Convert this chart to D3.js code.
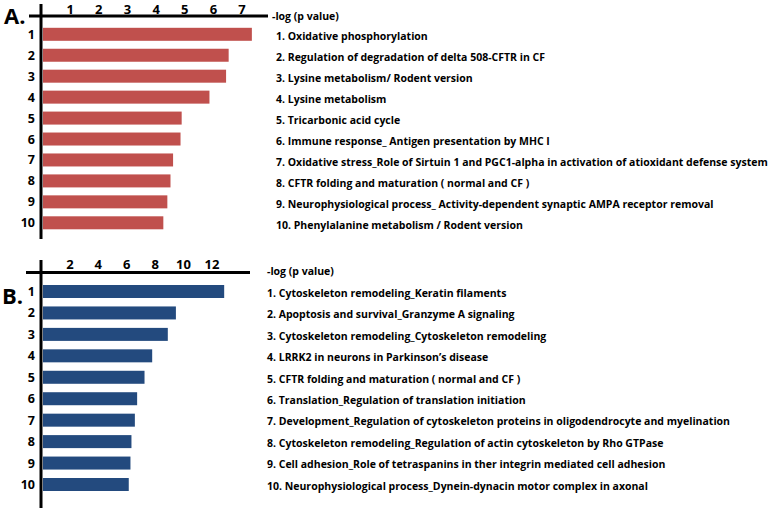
<!DOCTYPE html>
<html><head><meta charset="utf-8">
<script src="https://cdn.jsdelivr.net/npm/d3@7"></script>
<style>
body{margin:0;background:#fff;}
text{font-family:"Open Sans","Noto Sans",sans-serif;}
</style></head>
<body><svg id="c" width="784" height="514"></svg>
<script>
const ranks = ["1","2","3","4","5","6","7","8","9","10"];
const valuesA = [7.36, 6.55, 6.46, 5.88, 4.91, 4.87, 4.61, 4.52, 4.41, 4.27];
const valuesB = [12.9, 9.5, 8.93, 7.83, 7.29, 6.77, 6.61, 6.37, 6.3, 6.18];
const ticksA = [1,2,3,4,5,6,7];
const ticksB = [2,4,6,8,10,12];
const labelsA = [
 "1. Oxidative phosphorylation",
 "2. Regulation of degradation of delta 508-CFTR in CF",
 "3. Lysine metabolism/ Rodent version",
 "4. Lysine metabolism",
 "5. Tricarbonic acid cycle",
 "6. Immune response_ Antigen presentation by MHC I",
 "7. Oxidative stress_Role of Sirtuin 1 and PGC1-alpha in activation of atioxidant defense system",
 "8. CFTR folding and maturation ( normal and CF )",
 "9. Neurophysiological process_ Activity-dependent synaptic AMPA receptor removal",
 "10. Phenylalanine metabolism / Rodent version"
];
const labelsB = [
 "1. Cytoskeleton remodeling_Keratin filaments",
 "2. Apoptosis and survival_Granzyme A signaling",
 "3. Cytoskeleton remodeling_Cytoskeleton remodeling",
 "4. LRRK2 in neurons in Parkinson\u2019s disease",
 "5. CFTR folding and maturation ( normal and CF )",
 "6. Translation_Regulation of translation initiation",
 "7. Development_Regulation of cytoskeleton proteins in oligodendrocyte and myelination",
 "8. Cytoskeleton remodeling_Regulation of actin cytoskeleton by Rho GTPase",
 "9. Cell adhesion_Role of tetraspanins in ther integrin mediated cell adhesion",
 "10. Neurophysiological process_Dynein-dynacin motor complex in axonal"
];
const axisTitle = "-log (p value)";

const svg = d3.select("#c");
const FONT = 'Lato,"Open Sans",sans-serif';

function panel(cfg){
  const g = svg.append("g");
  const x = d3.scaleLinear().domain([0, cfg.unitMax]).range([cfg.x0, cfg.x0 + cfg.unitMax*cfg.unitPx]);
  const y = d3.scalePoint().domain(ranks).range([cfg.yTop, cfg.yBot]);
  const bh = 13;
  g.selectAll("rect.bar").data(cfg.values).join("rect")
    .attr("class","bar")
    .attr("x", x(0)+2)
    .attr("y", (d,i)=>y(ranks[i]) - bh/2)
    .attr("width", d=>x(d)-x(0)-2)
    .attr("height", bh)
    .attr("fill", cfg.color);
  g.append("line").attr("x1", cfg.hx1).attr("x2", cfg.hx2).attr("y1", cfg.axisY).attr("y2", cfg.axisY)
    .attr("stroke","#000").attr("stroke-width",3);
  g.append("line").attr("x1", x(0)).attr("x2", x(0)).attr("y1", cfg.vy1).attr("y2", cfg.vy2)
    .attr("stroke","#000").attr("stroke-width",3);
  const ax = d3.axisTop(x).tickValues(cfg.ticks).tickSize(0).tickPadding(0).tickFormat(d3.format("d"));
  const axg = g.append("g").attr("transform", `translate(0,${cfg.tickY})`).call(ax);
  axg.select(".domain").remove();
  axg.selectAll("text").attr("font-size",13).attr("font-weight",700).attr("fill","#000")
    .attr("font-family",FONT).attr("dy","0.36em");
  const ay = d3.axisLeft(y).tickSize(0).tickPadding(0);
  const ayg = g.append("g").attr("transform", `translate(${cfg.rankX},0)`).call(ay);
  ayg.select(".domain").remove();
  ayg.selectAll("text").attr("font-size",12.5).attr("font-weight",700).attr("fill","#000")
    .attr("font-family",FONT);
  g.append("text").attr("x", cfg.titleX).attr("y", cfg.titleY).attr("dy","0.36em")
    .attr("font-family",FONT).attr("font-size",cfg.fs).attr("font-weight",700).text(axisTitle);
  g.selectAll("text.lab").data(cfg.labels).join("text").attr("class","lab")
    .attr("x", cfg.labX).attr("y",(d,i)=>y(ranks[i]) + cfg.labDy).attr("dy","0.36em")
    .attr("font-family",FONT).attr("font-size",cfg.fs).attr("font-weight",700).text(d=>d);
  g.append("text").attr("x", cfg.letterX).attr("y", cfg.letterY).attr("dy","0.36em")
    .attr("font-family","Liberation Sans, Arial, sans-serif")
    .attr("font-size",22).attr("font-weight","bold").text(cfg.letter);
}

const probe = svg.append("text").attr("font-family",FONT).attr("font-size",12).attr("font-weight",700).text(labelsA[6]);
const w12 = probe.node().getComputedTextLength();
probe.remove();
const fsLab = Math.min(13.5, 12 * 492 / w12);

panel({values:valuesA, labels:labelsA, ticks:ticksA, color:"#c0504d", fs:fsLab,
  x0:41, unitPx:28.65, unitMax:7.9, yTop:34.3, yBot:222.8,
  hx1:29, hx2:268, axisY:16, vy1:4, vy2:239, tickY:9,
  rankX:35, titleX:272, titleY:16, labX:276, labDy:2,
  letter:"A.", letterX:4, letterY:16});

panel({values:valuesB, labels:labelsB, ticks:ticksB, color:"#234a7e", fs:fsLab,
  x0:41, unitPx:14.2, unitMax:14.7, yTop:291.5, yBot:484.5,
  hx1:26, hx2:250, axisY:272.5, vy1:260, vy2:508, tickY:264,
  rankX:35, titleX:267, titleY:271.5, labX:267, labDy:1.5,
  letter:"B.", letterX:2, letterY:296});
</script></body></html>
